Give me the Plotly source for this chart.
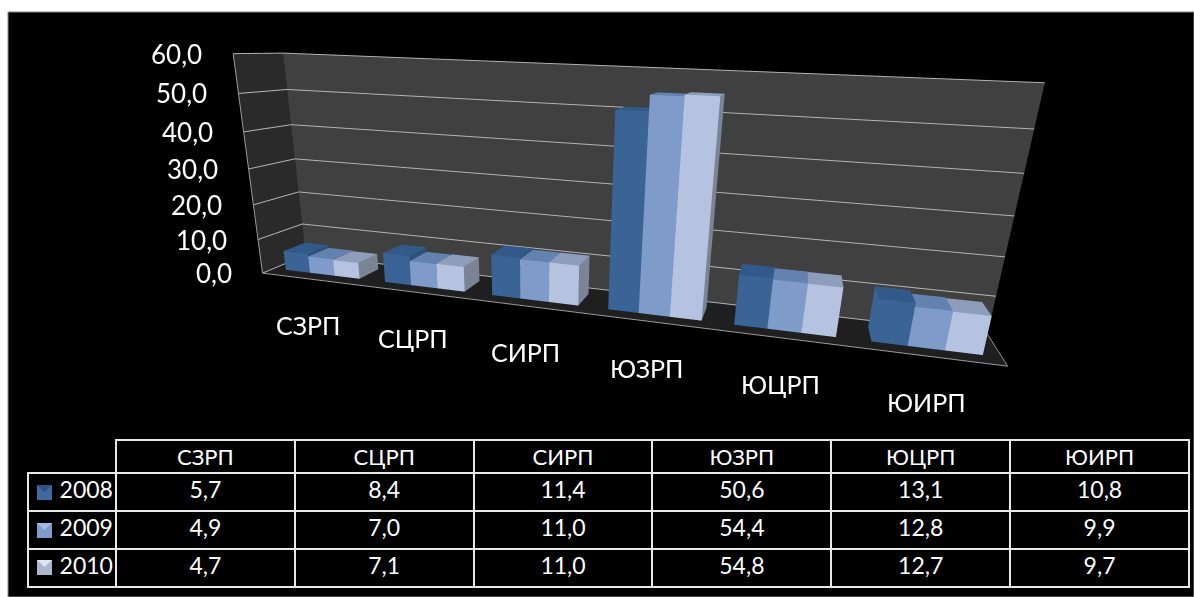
import plotly.graph_objects as go

# Table and chart data
categories = ["СЗРП", "СЦРП", "СИРП", "ЮЗРП", "ЮЦРП", "ЮИРП"]
years = ["2008", "2009", "2010"]
values_2008 = [5.7, 8.4, 11.4, 50.6, 13.1, 10.8]
values_2009 = [4.9, 7.0, 11.0, 54.4, 12.8, 9.9]
values_2010 = [4.7, 7.1, 11.0, 54.8, 12.7, 9.7]
series = [values_2008, values_2009, values_2010]
z_ticks = [0, 10, 20, 30, 40, 50, 60]

W, H = 1194, 597
BAR_Y = (0.25, 0.75)
BAR_GAP = 0.125
BAR_W = 0.25

front = ["#3a6496", "#7f9bc9", "#b5c3e0"]
top = ["#31598a", "#6382b0", "#8e9db9"]
side = ["#2f4f77", "#5f7699", "#7a8494"]
key_base = ["#3f6a9c", "#7f9bc9", "#aab7cf"]
key_top = ["#2c5282", "#a3bbe0", "#dfe5f0"]


def fmt(v):
    return f"{v:.1f}".replace(".", ",")


fig = go.Figure()

# One box per bar: triangles for bottom, top, front, right, back and left faces
tri_i = [0, 0, 4, 4, 0, 0, 1, 1, 2, 2, 3, 3]
tri_j = [1, 2, 5, 6, 1, 5, 2, 6, 3, 7, 0, 4]
tri_k = [2, 3, 6, 7, 5, 4, 6, 5, 7, 6, 4, 7]
for ci in range(len(categories)):
    for si in range(len(series)):
        x0 = ci + BAR_GAP + si * BAR_W
        x1 = x0 + BAR_W
        y0, y1 = BAR_Y
        v = series[si][ci]
        colours = ([side[si]] * 2 + [top[si]] * 2 + [front[si]] * 2
                   + [side[si]] * 2 + [side[si]] * 2 + [front[si]] * 2)
        fig.add_trace(go.Mesh3d(
            x=[x0, x1, x1, x0, x0, x1, x1, x0],
            y=[y0, y0, y1, y1, y0, y0, y1, y1],
            z=[0, 0, 0, 0, v, v, v, v],
            i=tri_i, j=tri_j, k=tri_k, facecolor=colours, flatshading=True,
            hoverinfo="skip",
            lighting=dict(ambient=1, diffuse=0, specular=0, fresnel=0, roughness=1),
        ))

# Data table under the chart; the year column leaves room for the legend keys
LINE = "#e8e8e8"
year_cells = ["\u00a0" * 4 + y for y in years]
cols = [year_cells] + [[fmt(s[i]) for s in series] for i in range(len(categories))]
fig.add_trace(go.Table(
    domain=dict(x=[28 / W, 1189 / W], y=[1 - 590 / H, 1 - 440 / H]),
    columnwidth=[88] + [179] * 6,
    header=dict(values=[""] + categories, height=33, fill_color="black",
                line=dict(color=["black"] + [LINE] * 6, width=2),
                font=dict(family="Lato", size=22, color="white"), align="center"),
    cells=dict(values=cols, height=38, fill_color="black",
               line=dict(color=LINE, width=2),
               font=dict(family="Lato", size=23, color="white"),
               align=["left"] + ["center"] * 6),
))

# Value labels along the left wall and category labels in front of the floor
scene_notes = []
for t in z_ticks:
    scene_notes.append(dict(x=0, y=0, z=t, text=fmt(t), showarrow=False, xanchor="right",
                            xshift=-29, font=dict(family="Lato", size=26, color="white")))
for i, name in enumerate(categories):
    scene_notes.append(dict(x=i + 0.5, y=0, z=0, text=name, showarrow=False,
                            yshift=-46, xshift=-3,
                            font=dict(family="Lato", size=25, color="white")))

# Panel behind everything, the table corner line and the legend keys
shapes = [
    dict(type="rect", xref="paper", yref="paper", x0=8 / W, x1=1, y0=0, y1=1 - 12 / H,
         fillcolor="black", line=dict(color="#888888", width=1), layer="below"),
    dict(type="line", xref="paper", yref="paper", x0=27 / W, x1=116 / W,
         y0=1 - 473 / H, y1=1 - 473 / H, line=dict(color=LINE, width=2)),
]
for si, key_y in enumerate([485, 523, 560]):
    y_lo, y_hi = 1 - (key_y + 15) / H, 1 - key_y / H
    shapes.append(dict(type="rect", xref="paper", yref="paper", x0=37 / W, x1=52 / W,
                       y0=y_lo, y1=y_hi, fillcolor=key_base[si], line=dict(width=0)))
    shapes.append(dict(type="path", xref="paper", yref="paper",
                       path=f"M {37 / W} {y_hi} L {52 / W} {y_hi} L {44.5 / W} {1 - (key_y + 7) / H} Z",
                       fillcolor=key_top[si], line=dict(width=0)))

axis = dict(showbackground=True, showgrid=False, zeroline=False, showticklabels=False,
            ticks="", title="", showspikes=False, showline=True,
            linecolor="#9a9a9a", linewidth=2)
fig.update_layout(
    width=W, height=H, margin=dict(l=0, r=0, t=0, b=0), paper_bgcolor="white",
    shapes=shapes,
    scene=dict(
        domain=dict(x=[0, 1], y=[0, 1]), bgcolor="rgba(0,0,0,0)", annotations=scene_notes,
        camera=dict(eye=dict(x=0.7652, y=-2.9358, z=0.5978),
                    center=dict(x=0.7473, y=-2.8676, z=0.5726),
                    up=dict(x=-0.4454, y=1.5196, z=1.0),
                    projection=dict(type="perspective")),
        aspectmode="manual", aspectratio=dict(x=3.2567, y=0.3292, z=1.0),
        xaxis=dict(axis, range=[0, 6], backgroundcolor="#2a2a2a"),
        yaxis=dict(axis, range=[0, 1], backgroundcolor="#404040"),
        zaxis=dict(axis, range=[0, 60], backgroundcolor="#1f1f1f", showgrid=True,
                   gridcolor="#b4b4b4", gridwidth=2, tickvals=z_ticks),
    ),
)
fig.write_html("out.html")
